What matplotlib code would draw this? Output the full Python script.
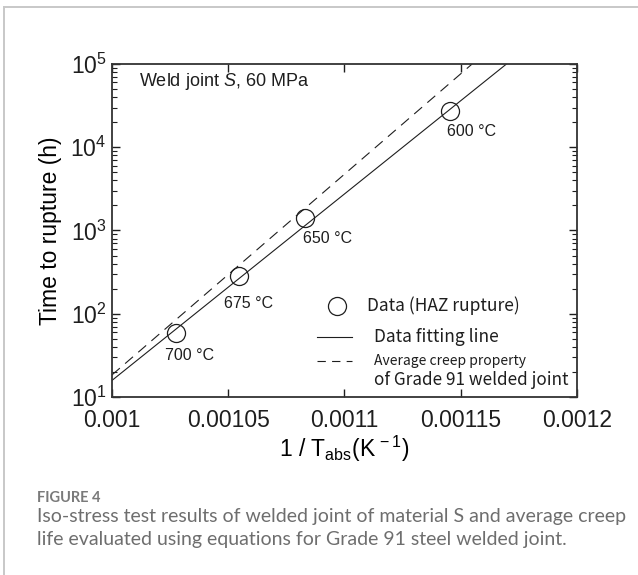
import numpy as np
import matplotlib
matplotlib.use("Agg")
import matplotlib.pyplot as plt
from matplotlib.lines import Line2D
from matplotlib.ticker import LogLocator, NullFormatter, FixedLocator

plt.rcParams["font.family"] = ["Liberation Sans", "DejaVu Sans"]
plt.rcParams["mathtext.fontset"] = "custom"
plt.rcParams["mathtext.rm"] = "Liberation Sans"
plt.rcParams["mathtext.it"] = "Liberation Sans:italic"
plt.rcParams["mathtext.default"] = "regular"
plt.rcParams["lines.scale_dashes"] = False

# test temperatures and measured rupture times (HAZ rupture)
temps_c = [700, 675, 650, 600]
inv_t = [0.0010276, 0.0010547, 0.0010832, 0.0011453]
t_rupture = [59, 284, 1410, 27200]

# fitted line and average Grade 91 weld property, end points
fit_x = [0.001, 0.0011697]
fit_t = [15.8, 1.0e5]
avg_x = [0.001, 0.0011549]
avg_t = [18.4, 1.0e5]

xticks = [0.001, 0.00105, 0.0011, 0.00115, 0.0012]
xtick_labels = ["0.001", "0.00105", "0.0011", "0.00115", "0.0012"]

# label offsets below each circle (points)
label_offsets = [(-8, -16), (-11, -19.5), (-2, -14.5), (-2, -14.5)]

fig = plt.figure(figsize=(6.38, 5.75), dpi=100)
ax = fig.add_axes([0.1755, 0.3096, 0.7288, 0.5791])

ink = "#1e1e1e"
ax.plot(fit_x, fit_t, color=ink, lw=0.8)
ax.plot(avg_x, avg_t, color=ink, lw=0.8, dashes=(7.5, 5))
ax.plot(inv_t, t_rupture, ls="none", marker="o", ms=13, mfc="none",
        mec=ink, mew=0.9)

for tc, x, t, off in zip(temps_c, inv_t, t_rupture, label_offsets):
    ax.annotate(f"{tc} °C", xy=(x, t), xytext=off, textcoords="offset points",
                ha="left", va="center", fontsize=11.5, color=ink)

ax.set_yscale("log")
ax.set_xlim(0.001, 0.0012)
ax.set_ylim(10, 1e5)
ax.xaxis.set_major_locator(FixedLocator(xticks))
ax.set_xticklabels(xtick_labels)
ax.yaxis.set_major_locator(LogLocator(base=10, numticks=10))
ax.yaxis.set_minor_locator(LogLocator(base=10, subs=np.arange(2, 10), numticks=10))
ax.yaxis.set_minor_formatter(NullFormatter())

ax.tick_params(which="both", direction="in", top=True, right=True, colors=ink,
               labelsize=16.5)
ax.tick_params(which="major", length=6, width=1)
ax.tick_params(which="minor", length=3.5, width=0.8)
ax.tick_params(axis="x", pad=9)
ax.tick_params(axis="y", pad=4)
for sp in ax.spines.values():
    sp.set_linewidth(1.3)
    sp.set_color("#333333")

ax.set_xlabel(r"1 / T$_{\rm abs}$(K$^{\,-1}$)", fontsize=16.5, labelpad=1)
ax.set_ylabel("Time to rupture (h)", fontsize=16.5, labelpad=6)

ax.text(0.058, 0.946, r"Weld joint $\it{S}$, 60 MPa", transform=ax.transAxes,
        fontsize=13, va="center", ha="left", color=ink)

# legend, drawn by hand to keep the two-line last entry
ax.plot([0.484], [0.273], transform=ax.transAxes, marker="o", ms=13,
        mfc="none", mec=ink, mew=0.9, clip_on=False)
ax.plot([0.442, 0.517], [0.180, 0.180], transform=ax.transAxes, color=ink, lw=0.8)
ax.plot([0.442, 0.517], [0.108, 0.108], transform=ax.transAxes, color=ink, lw=0.8,
        dashes=(6, 4.5))
leg_font = ["Noto Sans CJK JP", "DejaVu Sans"]
ax.text(0.548, 0.273, "Data (HAZ rupture)", transform=ax.transAxes, va="center",
        fontsize=12.5, family=leg_font, color=ink)
ax.text(0.5626, 0.180, "Data fitting line", transform=ax.transAxes, va="center",
        fontsize=12.5, family=leg_font, color=ink)
ax.text(0.564, 0.108, "Average creep property", transform=ax.transAxes,
        va="center", fontsize=10, family=leg_font, color=ink)
ax.text(0.5626, 0.051, "of Grade 91 welded joint", transform=ax.transAxes,
        va="center", fontsize=12.3, family=leg_font, color=ink)

# card frame and caption
fig.add_artist(Line2D([4 / 638, 4 / 638], [0, 1 - 7 / 575], color="#c8c8c8", lw=1.4))
fig.add_artist(Line2D([4 / 638, 1], [1 - 7 / 575, 1 - 7 / 575], color="#c8c8c8", lw=1.4))
cap_font = ["Lato", "DejaVu Sans"]
fig.text(0.058, 0.134, "FIGURE 4", fontsize=10.5, family=cap_font, weight="bold",
         color="#7a7a7a", va="center")
fig.text(0.058, 0.101,
         "Iso-stress test results of welded joint of material S and average creep",
         fontsize=14, family=cap_font, color="#6e6e6e", va="center")
fig.text(0.058, 0.061,
         "life evaluated using equations for Grade 91 steel welded joint.",
         fontsize=14, family=cap_font, color="#6e6e6e", va="center")

fig.savefig("out.png", dpi=100)
